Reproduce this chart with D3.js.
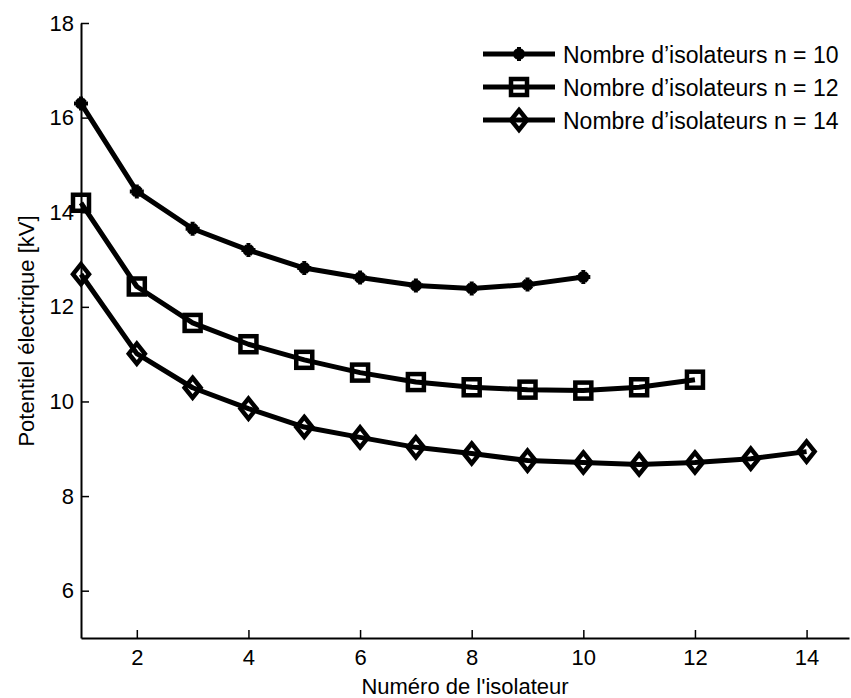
<!DOCTYPE html>
<html>
<head>
<meta charset="utf-8">
<script src="https://cdn.jsdelivr.net/npm/d3@7"></script>
<style>
  body { margin: 0; background: #fff; }
  text { font-family: "Liberation Sans", Arial, sans-serif; fill: #000; }
</style>
</head>
<body>
<div id="chart"></div>
<script>
// insulator index along the string
const isolateurs = d3.range(1, 15);

// potential per insulator [kV]
const potN10 = [16.30, 14.44, 13.65, 13.20, 12.82, 12.62, 12.45, 12.39, 12.47, 12.63];
const potN12 = [14.20, 12.43, 11.66, 11.21, 10.88, 10.61, 10.41, 10.30, 10.25, 10.23, 10.30, 10.46];
const potN14 = [12.69, 11.01, 10.29, 9.85, 9.46, 9.24, 9.03, 8.90, 8.75, 8.71, 8.67, 8.71, 8.79, 8.94];

const seriesNames = ["Nombre d\u2019isolateurs n = 10", "Nombre d\u2019isolateurs n = 12", "Nombre d\u2019isolateurs n = 14"];
const seriesMarkers = ["star", "square", "diamond"];
const seriesValues = [potN10, potN12, potN14];

const xTicks = [2, 4, 6, 8, 10, 12, 14];
const yTicks = [6, 8, 10, 12, 14, 16, 18];

const width = 851, height = 698;
const margin = {left: 81, right: 2, top: 23, bottom: 60};

const svg = d3.select("#chart").append("svg")
    .attr("width", width)
    .attr("height", height);

const x = d3.scaleLinear()
    .domain([1, 14.76])
    .range([margin.left, width - margin.right]);

const y = d3.scaleLinear()
    .domain([5, 18])
    .range([height - margin.bottom, margin.top]);

// axes (ticks pointing inward, MATLAB style, no box)
const xAxis = svg.append("g")
    .attr("transform", "translate(0," + (height - margin.bottom) + ")")
    .call(d3.axisBottom(x).tickValues(xTicks).tickSizeInner(-8).tickSizeOuter(0).tickPadding(11));
const yAxis = svg.append("g")
    .attr("transform", "translate(" + margin.left + ",0)")
    .call(d3.axisLeft(y).tickValues(yTicks).tickSizeInner(-8).tickSizeOuter(0).tickPadding(7));

[xAxis, yAxis].forEach(function (ax) {
    ax.select(".domain").attr("stroke", "#000").attr("stroke-width", 2);
    ax.selectAll(".tick line").attr("stroke", "#000").attr("stroke-width", 1.5);
    ax.selectAll(".tick text").style("font-size", "22px").attr("fill", "#000");
});

// axis titles
svg.append("text")
    .attr("x", 465)
    .attr("y", 694)
    .attr("text-anchor", "middle")
    .style("font-size", "22px")
    .text("Num\u00e9ro de l'isolateur");

svg.append("text")
    .attr("transform", "translate(34," + 331 + ") rotate(-90)")
    .attr("text-anchor", "middle")
    .style("font-size", "22px")
    .text("Potentiel \u00e9lectrique [kV]");

// marker drawing
function drawMarker(g, type, cx, cy) {
    if (type === "star") {
        const r = 7;
        g.append("path")
            .attr("d", "M" + (cx - r) + "," + cy + "H" + (cx + r) +
                       "M" + cx + "," + (cy - r) + "V" + (cy + r) +
                       "M" + (cx - r * 0.6) + "," + (cy - r * 0.6) + "L" + (cx + r * 0.6) + "," + (cy + r * 0.6) +
                       "M" + (cx - r * 0.6) + "," + (cy + r * 0.6) + "L" + (cx + r * 0.6) + "," + (cy - r * 0.6))
            .attr("stroke", "#000")
            .attr("stroke-width", 4)
            .attr("fill", "none");
    } else if (type === "square") {
        const h = 8;
        g.append("rect")
            .attr("x", cx - h).attr("y", cy - h)
            .attr("width", 2 * h).attr("height", 2 * h)
            .attr("stroke", "#000")
            .attr("stroke-width", 4.5)
            .attr("fill", "none");
    } else {
        const h = 10;
        g.append("path")
            .attr("d", "M" + cx + "," + (cy - h) + "L" + (cx + h * 0.8) + "," + cy +
                       "L" + cx + "," + (cy + h) + "L" + (cx - h * 0.8) + "," + cy + "Z")
            .attr("stroke", "#000")
            .attr("stroke-width", 4.5)
            .attr("stroke-linejoin", "miter")
            .attr("fill", "none");
    }
}

const line = d3.line()
    .x(function (d, i) { return x(isolateurs[i]); })
    .y(function (d) { return y(d); });

seriesValues.forEach(function (vals, k) {
    const g = svg.append("g").attr("class", "series-" + k);
    g.append("path")
        .datum(vals)
        .attr("d", line)
        .attr("fill", "none")
        .attr("stroke", "#000")
        .attr("stroke-width", 5)
        .attr("stroke-linejoin", "round");
    vals.forEach(function (v, i) {
        drawMarker(g, seriesMarkers[k], x(isolateurs[i]), y(v));
    });
});

// legend
const legendRows = [54, 87, 120];
const legend = svg.append("g").attr("class", "legend");
seriesNames.forEach(function (name, k) {
    const ly = legendRows[k];
    legend.append("line")
        .attr("x1", 483).attr("x2", 555)
        .attr("y1", ly).attr("y2", ly)
        .attr("stroke", "#000")
        .attr("stroke-width", 5);
    drawMarker(legend, seriesMarkers[k], 519, ly);
    legend.append("text")
        .attr("x", 563)
        .attr("y", ly + 9)
        .style("font-size", "23px")
        .text(name);
});
</script>
</body>
</html>
